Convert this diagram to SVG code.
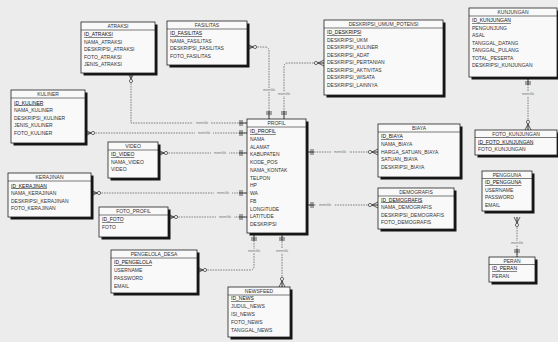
<svg xmlns="http://www.w3.org/2000/svg" width="558" height="342" viewBox="0 0 558 342">
<style>
.bg{fill:#ececec}
.sh{fill:#141414}
.box{fill:#f9f9f9;stroke:#222;stroke-width:0.8}
.sep{stroke:#222;stroke-width:0.6}
.t{font-family:"Liberation Sans",Arial,sans-serif;font-size:5px;fill:#333;text-anchor:middle}
.f{font-family:"Liberation Sans",Arial,sans-serif;font-size:5px;fill:#333}
.pk{text-decoration:underline;fill:#111}
.c{fill:none;stroke:#666;stroke-width:0.8;stroke-dasharray:1.6 1;marker-start:url(#many);marker-end:url(#one)}
.lb{font-family:"Liberation Sans",Arial,sans-serif;font-size:3.4px;fill:#777;text-anchor:middle}
.lbg{fill:#ececec}
</style>
<defs>
<marker id="many" markerUnits="userSpaceOnUse" markerWidth="12" markerHeight="12" refX="0" refY="0" orient="auto" overflow="visible">
<path d="M0,-3 L6,0 L0,3 M0,0 L6,0" fill="none" stroke="#333" stroke-width="0.8"/>
<circle cx="8" cy="0" r="1.6" fill="#f4f4f4" stroke="#333" stroke-width="0.7"/>
</marker>
<marker id="one" markerUnits="userSpaceOnUse" markerWidth="12" markerHeight="12" refX="0" refY="0" orient="auto" overflow="visible">
<path d="M-8,0 L0,0 M-5,-3 L-5,3 M-7,-3 L-7,3" fill="none" stroke="#333" stroke-width="0.8"/>
</marker>
</defs>
<rect class="bg" x="0" y="0" width="558" height="342"/>

<g id="connectors">
<path class="c" d="M131,73 L131,123 L247,123"/>
<path class="c" d="M85,133 L247,133"/>
<path class="c" d="M158,153 L247,153"/>
<path class="c" d="M91,193 L247,193"/>
<path class="c" d="M168,217 L247,217"/>
<path class="c" d="M247,47 L265,47 Q269,47 269,51 L269,119"/>
<path class="c" d="M324,63 L288,63 Q284,63 284,67 L284,119"/>
<path class="c" d="M378,152 L306,152"/>
<path class="c" d="M378,205 L306,205"/>
<path class="c" d="M197,270 L250,270 Q254,270 254,266 L254,233"/>
<path class="c" d="M282,287 L282,233"/>
<path class="c" d="M528,130 L528,77"/>
<path class="c" d="M517,217 L517,257"/>
<g>
<rect class="lbg" x="193" y="121" width="18" height="4"/><text class="lb" x="202" y="124.2">memiliki</text>
<rect class="lbg" x="195" y="131" width="18" height="4"/><text class="lb" x="204" y="134.2">memiliki</text>
<rect class="lbg" x="211" y="151" width="18" height="4"/><text class="lb" x="220" y="154.2">memiliki</text>
<rect class="lbg" x="214" y="191" width="18" height="4"/><text class="lb" x="223" y="194.2">memiliki</text>
<rect class="lbg" x="216" y="215" width="18" height="4"/><text class="lb" x="225" y="218.2">memiliki</text>
<rect class="lbg" x="260" y="88" width="18" height="4"/><text class="lb" x="269" y="91.2">memiliki</text>
<rect class="lbg" x="275" y="92" width="18" height="4"/><text class="lb" x="284" y="95.2">memiliki</text>
<rect class="lbg" x="331" y="150" width="18" height="4"/><text class="lb" x="340" y="153.2">memiliki</text>
<rect class="lbg" x="316" y="203" width="18" height="4"/><text class="lb" x="325" y="206.2">memiliki</text>
<rect class="lbg" x="245" y="249" width="18" height="4"/><text class="lb" x="254" y="252.2">memiliki</text>
<rect class="lbg" x="273" y="249" width="18" height="4"/><text class="lb" x="282" y="252.2">memiliki</text>
<rect class="lbg" x="519" y="92" width="18" height="4"/><text class="lb" x="528" y="95.2">memiliki</text>
<rect class="lbg" x="508" y="241" width="18" height="4"/><text class="lb" x="517" y="244.2">memiliki</text>
</g>
</g>

<g id="atraksi">
<rect class="sh" x="83.5" y="24.5" width="74" height="51"/>
<rect class="box" x="81" y="22" width="74" height="51"/>
<line class="sep" x1="81" y1="30" x2="155" y2="30"/>
<text class="t" x="118" y="28">ATRAKSI</text>
<text class="f pk" x="84" y="36">ID_ATRAKSI</text>
<text class="f" x="84" y="43.5">NAMA_ATRAKSI</text>
<text class="f" x="84" y="51">DESKRIPSI_ATRAKSI</text>
<text class="f" x="84" y="58.5">FOTO_ATRAKSI</text>
<text class="f" x="84" y="66">JENIS_ATRAKSI</text>
</g>

<g id="fasilitas">
<rect class="sh" x="169.5" y="23.5" width="80" height="44"/>
<rect class="box" x="167" y="21" width="80" height="44"/>
<line class="sep" x1="167" y1="29" x2="247" y2="29"/>
<text class="t" x="207" y="27">FASILITAS</text>
<text class="f pk" x="170" y="35">ID_FASILITAS</text>
<text class="f" x="170" y="42.5">NAMA_FASILITAS</text>
<text class="f" x="170" y="50">DESKRIPSI_FASILITAS</text>
<text class="f" x="170" y="57.5">FOTO_FASILITAS</text>
</g>

<g id="deskripsi_umum_potensi">
<rect class="sh" x="326.5" y="22.5" width="119" height="75"/>
<rect class="box" x="324" y="20" width="119" height="75"/>
<line class="sep" x1="324" y1="28" x2="443" y2="28"/>
<text class="t" x="383.5" y="26">DESKRIPSI_UMUM_POTENSI</text>
<text class="f pk" x="327" y="34">ID_DESKRIPSI</text>
<text class="f" x="327" y="41.5">DESKRIPSI_UKM</text>
<text class="f" x="327" y="49">DESKRIPSI_KULINER</text>
<text class="f" x="327" y="56.5">DESKRIPSI_ADAT</text>
<text class="f" x="327" y="64">DESKRIPSI_PERTANIAN</text>
<text class="f" x="327" y="71.5">DESKRIPSI_AKTIVITAS</text>
<text class="f" x="327" y="79">DESKRIPSI_WISATA</text>
<text class="f" x="327" y="86.5">DESKRIPSI_LAINNYA</text>
</g>

<g id="kunjungan">
<rect class="sh" x="471.5" y="10.5" width="88" height="69"/>
<rect class="box" x="469" y="8" width="88" height="69"/>
<line class="sep" x1="469" y1="16" x2="557" y2="16"/>
<text class="t" x="513" y="14">KUNJUNGAN</text>
<text class="f pk" x="472" y="22">ID_KUNJUNGAN</text>
<text class="f" x="472" y="29.5">PENGUNJUNG</text>
<text class="f" x="472" y="37">ASAL</text>
<text class="f" x="472" y="44.5">TANGGAL_DATANG</text>
<text class="f" x="472" y="52">TANGGAL_PULANG</text>
<text class="f" x="472" y="59.5">TOTAL_PESERTA</text>
<text class="f" x="472" y="67">DESKRIPSI_KUNJUNGAN</text>
</g>

<g id="foto_kunjungan">
<rect class="sh" x="477.5" y="132.5" width="82" height="25"/>
<rect class="box" x="475" y="130" width="82" height="25"/>
<line class="sep" x1="475" y1="137.5" x2="557" y2="137.5"/>
<text class="t" x="516" y="135.5">FOTO_KUNJUNGAN</text>
<text class="f pk" x="478" y="143.5">ID_FOTO_KUNJUNGAN</text>
<text class="f" x="478" y="151">FOTO_KUNJUNGAN</text>
</g>

<g id="kuliner">
<rect class="sh" x="13.5" y="92.5" width="74" height="53"/>
<rect class="box" x="11" y="90" width="74" height="53"/>
<line class="sep" x1="11" y1="98" x2="85" y2="98"/>
<text class="t" x="48" y="96">KULINER</text>
<text class="f pk" x="14" y="104.5">ID_KULINER</text>
<text class="f" x="14" y="112">NAMA_KULINER</text>
<text class="f" x="14" y="119.5">DESKRIPSI_KULINER</text>
<text class="f" x="14" y="127">JENIS_KULINER</text>
<text class="f" x="14" y="134.5">FOTO_KULINER</text>
</g>

<g id="video">
<rect class="sh" x="110.5" y="144.5" width="50" height="36"/>
<rect class="box" x="108" y="142" width="50" height="36"/>
<line class="sep" x1="108" y1="150" x2="158" y2="150"/>
<text class="t" x="133" y="148">VIDEO</text>
<text class="f pk" x="111" y="156">ID_VIDEO</text>
<text class="f" x="111" y="163.5">NAMA_VIDEO</text>
<text class="f" x="111" y="171">VIDEO</text>
</g>

<g id="kerajinan">
<rect class="sh" x="10.5" y="175.5" width="83" height="44"/>
<rect class="box" x="8" y="173" width="83" height="44"/>
<line class="sep" x1="8" y1="181" x2="91" y2="181"/>
<text class="t" x="49.5" y="179">KERAJINAN</text>
<text class="f pk" x="11" y="187.5">ID_KERAJINAN</text>
<text class="f" x="11" y="195">NAMA_KERAJINAN</text>
<text class="f" x="11" y="202.5">DESKRIPSI_KERAJINAN</text>
<text class="f" x="11" y="210">FOTO_KERAJINAN</text>
</g>

<g id="foto_profil">
<rect class="sh" x="101.5" y="209.5" width="69" height="30"/>
<rect class="box" x="99" y="207" width="69" height="30"/>
<line class="sep" x1="99" y1="215" x2="168" y2="215"/>
<text class="t" x="133.5" y="213">FOTO_PROFIL</text>
<text class="f pk" x="102" y="221">ID_FOTO</text>
<text class="f" x="102" y="228.5">FOTO</text>
</g>

<g id="profil">
<rect class="sh" x="249.5" y="121.5" width="59" height="114"/>
<rect class="box" x="247" y="119" width="59" height="114"/>
<line class="sep" x1="247" y1="127" x2="306" y2="127"/>
<text class="t" x="276.5" y="125">PROFIL</text>
<text class="f pk" x="250" y="133">ID_PROFIL</text>
<text class="f" x="250" y="140.75">NAMA</text>
<text class="f" x="250" y="148.5">ALAMAT</text>
<text class="f" x="250" y="156.25">KABUPATEN</text>
<text class="f" x="250" y="164">KODE_POS</text>
<text class="f" x="250" y="171.75">NAMA_KONTAK</text>
<text class="f" x="250" y="179.5">TELPON</text>
<text class="f" x="250" y="187.25">HP</text>
<text class="f" x="250" y="195">WA</text>
<text class="f" x="250" y="202.75">FB</text>
<text class="f" x="250" y="210.5">LONGITUDE</text>
<text class="f" x="250" y="218.25">LATITUDE</text>
<text class="f" x="250" y="226">DESKRIPSI</text>
</g>

<g id="biaya">
<rect class="sh" x="380.5" y="126.5" width="82" height="53"/>
<rect class="box" x="378" y="124" width="82" height="53"/>
<line class="sep" x1="378" y1="132" x2="460" y2="132"/>
<text class="t" x="419" y="130">BIAYA</text>
<text class="f pk" x="381" y="138">ID_BIAYA</text>
<text class="f" x="381" y="145.75">NAMA_BIAYA</text>
<text class="f" x="381" y="153.5">HARGA_SATUAN_BIAYA</text>
<text class="f" x="381" y="161.25">SATUAN_BIAYA</text>
<text class="f" x="381" y="169">DESKRIPSI_BIAYA</text>
</g>

<g id="demografis">
<rect class="sh" x="380.5" y="190.5" width="76" height="41"/>
<rect class="box" x="378" y="188" width="76" height="41"/>
<line class="sep" x1="378" y1="196" x2="454" y2="196"/>
<text class="t" x="416" y="194">DEMOGRAFIS</text>
<text class="f pk" x="381" y="201.5">ID_DEMOGRAFIS</text>
<text class="f" x="381" y="209">NAMA_DEMOGRAFIS</text>
<text class="f" x="381" y="216.5">DESKRIPSI_DEMOGRAFIS</text>
<text class="f" x="381" y="224">FOTO_DEMOGRAFIS</text>
</g>

<g id="pengguna">
<rect class="sh" x="484.5" y="173.5" width="50" height="40"/>
<rect class="box" x="482" y="171" width="50" height="40"/>
<line class="sep" x1="482" y1="178.5" x2="532" y2="178.5"/>
<text class="t" x="507" y="176.5">PENGGUNA</text>
<text class="f pk" x="485" y="184">ID_PENGGUNA</text>
<text class="f" x="485" y="191.5">USERNAME</text>
<text class="f" x="485" y="199">PASSWORD</text>
<text class="f" x="485" y="206.5">EMAIL</text>
</g>

<g id="peran">
<rect class="sh" x="491.5" y="259.5" width="46" height="25"/>
<rect class="box" x="489" y="257" width="46" height="25"/>
<line class="sep" x1="489" y1="264.5" x2="535" y2="264.5"/>
<text class="t" x="512" y="262.5">PERAN</text>
<text class="f pk" x="492" y="270">ID_PERAN</text>
<text class="f" x="492" y="277.5">PERAN</text>
</g>

<g id="pengelola_desa">
<rect class="sh" x="113.5" y="252.5" width="86" height="43"/>
<rect class="box" x="111" y="250" width="86" height="43"/>
<line class="sep" x1="111" y1="258" x2="197" y2="258"/>
<text class="t" x="154" y="256">PENGELOLA_DESA</text>
<text class="f pk" x="114" y="264">ID_PENGELOLA</text>
<text class="f" x="114" y="272">USERNAME</text>
<text class="f" x="114" y="280">PASSWORD</text>
<text class="f" x="114" y="288">EMAIL</text>
</g>

<g id="newsfeed">
<rect class="sh" x="230.5" y="289.5" width="62" height="50"/>
<rect class="box" x="228" y="287" width="62" height="50"/>
<line class="sep" x1="228" y1="295" x2="290" y2="295"/>
<text class="t" x="259" y="293">NEWSFEED</text>
<text class="f pk" x="231" y="300">ID_NEWS</text>
<text class="f" x="231" y="308">JUDUL_NEWS</text>
<text class="f" x="231" y="316">ISI_NEWS</text>
<text class="f" x="231" y="324">FOTO_NEWS</text>
<text class="f" x="231" y="332">TANGGAL_NEWS</text>
</g>
</svg>
